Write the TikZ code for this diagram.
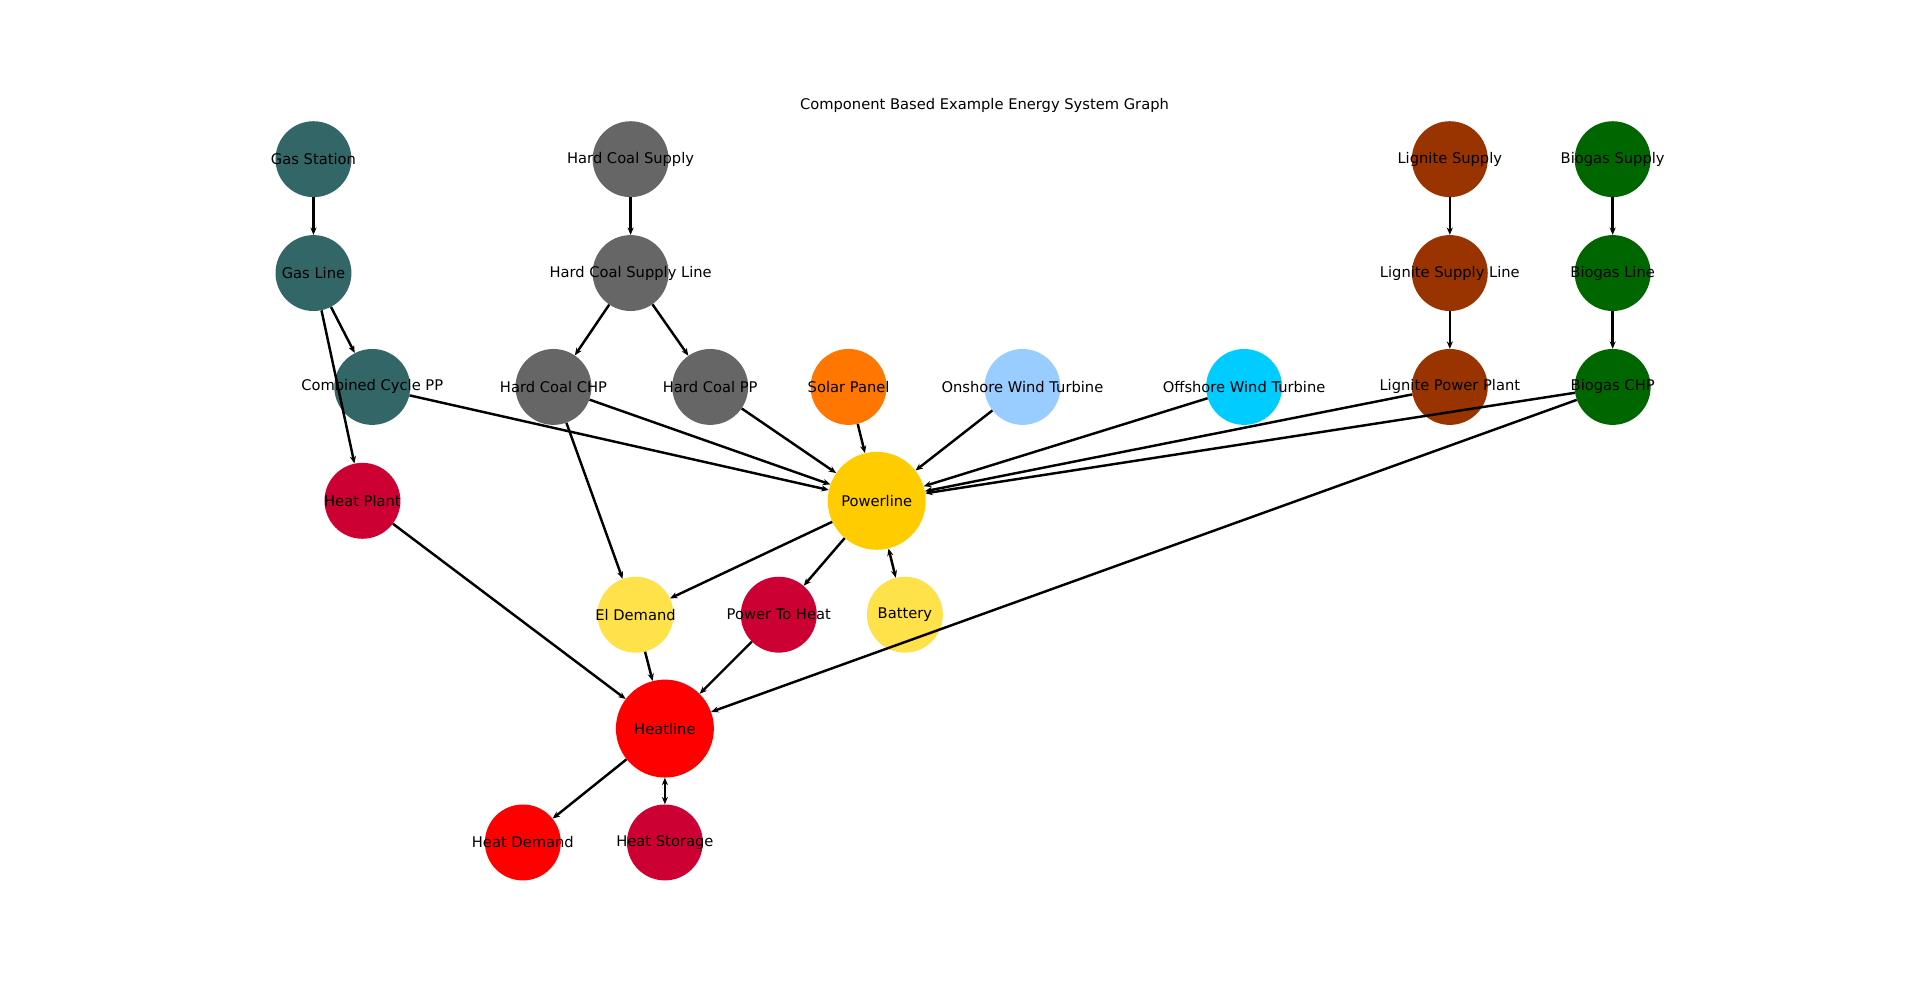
\documentclass[tikz,border=0pt]{standalone}
\usepackage{fontspec}
\setmainfont{DejaVu Sans}
\usetikzlibrary{arrows.meta}
\definecolor{gas}{HTML}{336666}
\definecolor{coal}{HTML}{666666}
\definecolor{lig}{HTML}{993300}
\definecolor{bio}{HTML}{006600}
\definecolor{hp}{HTML}{CC0033}
\definecolor{pl}{HTML}{FFCC00}
\definecolor{ed}{HTML}{FFE14A}
\definecolor{sol}{HTML}{FF7700}
\definecolor{on}{HTML}{99CCFF}
\definecolor{off}{HTML}{00CCFF}
\begin{document}
\begin{tikzpicture}[x=1pt,y=-1pt,
  n/.style 2 args={circle,minimum size=62pt,inner sep=0pt,fill=#1,
    label={[font=\fontsize{12}{12}\selectfont]center:#2}},
  b/.style 2 args={circle,minimum size=80pt,inner sep=0pt,fill=#1,
    label={[font=\fontsize{12}{12}\selectfont]center:#2}},
  e/.style={line width=2pt,-{Stealth[length=6pt,width=5pt]}},
  d/.style={line width=2pt,{Stealth[length=6pt,width=5pt]}-{Stealth[length=6pt,width=5pt]}}]
\useasboundingbox (0,0) rectangle (1568,810);
\node[font=\fontsize{12}{12}\selectfont] (t) at (804,86) {Component Based Example Energy System Graph};
\node[n={gas}{Gas Station}] (gs) at (256,130) {};
\node[n={gas}{Gas Line}] (gl) at (256,223) {};
\node[n={gas}{Combined Cycle PP}] (cc) at (304,316) {};
\node[n={hp}{Heat Plant}] (hpl) at (296,409) {};
\node[n={coal}{Hard Coal Supply}] (cs) at (515,130) {};
\node[n={coal}{Hard Coal Supply Line}] (csl) at (515,223) {};
\node[n={coal}{Hard Coal CHP}] (chp) at (452,316) {};
\node[n={coal}{Hard Coal PP}] (cpp) at (580,316) {};
\node[n={sol}{Solar Panel}] (sp) at (693,316) {};
\node[n={on}{Onshore Wind Turbine}] (on) at (835,316) {};
\node[n={off}{Offshore Wind Turbine}] (off) at (1016,316) {};
\node[n={lig}{Lignite Supply}] (ls) at (1184,130) {};
\node[n={lig}{Lignite Supply Line}] (lsl) at (1184,223) {};
\node[n={lig}{Lignite Power Plant}] (lpp) at (1184,316) {};
\node[n={bio}{Biogas Supply}] (bs) at (1317,130) {};
\node[n={bio}{Biogas Line}] (bl) at (1317,223) {};
\node[n={bio}{Biogas CHP}] (bchp) at (1317,316) {};
\node[b={pl}{Powerline}] (pw) at (716,409) {};
\node[n={ed}{El Demand}] (eld) at (519,502) {};
\node[n={hp}{Power To Heat}] (pth) at (636,502) {};
\node[n={ed}{Battery}] (bat) at (739,502) {};
\node[b={red}{Heatline}] (hl) at (543,595) {};
\node[n={red}{Heat Demand}] (hd) at (427,688) {};
\node[n={hp}{Heat Storage}] (hs) at (543,688) {};
\begin{scope}[on background layer/.style={}]
\foreach \a/\b in {gs/gl,gl/cc,gl/hpl,cc/pw,cs/csl,csl/chp,csl/cpp,chp/pw,chp/eld,cpp/pw,sp/pw,on/pw,off/pw,ls/lsl,lsl/lpp,lpp/pw,bs/bl,bl/bchp,bchp/pw,bchp/hl,hpl/hl,pw/eld,pw/pth,eld/hl,pth/hl,hl/hd}
  \draw[e] (\a) -- (\b);
\draw[d] (pw) -- (bat);
\draw[d] (hl) -- (hs);
\end{scope}
\end{tikzpicture}
\end{document}
